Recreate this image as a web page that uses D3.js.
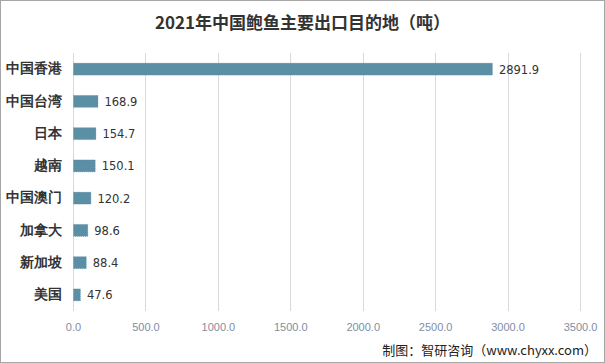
<!DOCTYPE html>
<html>
<head>
<meta charset="utf-8">
<script src="https://cdn.jsdelivr.net/npm/d3@7"></script>
<style>
  body { margin: 0; background: #fff; }
  svg { display: block; font-family: "Noto Sans CJK SC", "Noto Sans", sans-serif; }
</style>
</head>
<body>
<div id="chart"></div>
<script>
// data
var categories = ["中国香港", "中国台湾", "日本", "越南", "中国澳门", "加拿大", "新加坡", "美国"];
var values = [2891.9, 168.9, 154.7, 150.1, 120.2, 98.6, 88.4, 47.6];
var ticks = [0, 500, 1000, 1500, 2000, 2500, 3000, 3500];

var W = 605, H = 363;
var margin = {top: 53, right: 25, bottom: 52, left: 73},
    width = W - margin.left - margin.right,
    height = H - margin.top - margin.bottom;

var svg = d3.select("#chart").append("svg")
    .attr("width", W)
    .attr("height", H);

// outer frame
svg.append("rect")
    .attr("x", 0.5).attr("y", 0.5)
    .attr("width", W - 1).attr("height", H - 1)
    .attr("fill", "#fff").attr("stroke", "#a6a6a6");

svg.append("text")
    .attr("x", W / 2).attr("y", 29)
    .attr("text-anchor", "middle")
    .style("font-size", "17px").style("font-weight", "bold")
    .attr("fill", "#333")
    .text("2021年中国鲍鱼主要出口目的地（吨）");

var g = svg.append("g")
    .attr("transform", "translate(" + margin.left + "," + margin.top + ")");

var x = d3.scaleLinear().domain([0, 3500]).range([0, width]);
var y = d3.scaleBand().domain(categories).range([0, height]).paddingInner(0.63).paddingOuter(0.315);

// gridlines
g.append("g").selectAll("line")
    .data(ticks)
    .enter().append("line")
    .attr("x1", function(d) { return Math.round(x(d)) + 0.5; })
    .attr("x2", function(d) { return Math.round(x(d)) + 0.5; })
    .attr("y1", 0).attr("y2", height)
    .attr("stroke", "#d9d9d9");

// x tick labels
var xAxis = g.append("g")
    .attr("transform", "translate(0," + height + ")")
    .call(d3.axisBottom(x).tickValues(ticks).tickFormat(d3.format(".1f")).tickSize(0).tickPadding(12));
xAxis.select(".domain").remove();
xAxis.selectAll("text")
    .style("font-family", "'Liberation Sans', Arial, sans-serif")
    .style("font-size", "11px").attr("fill", "#7f8ea3");

// category labels
var yAxis = g.append("g")
    .call(d3.axisLeft(y).tickSize(0).tickPadding(11));
yAxis.select(".domain").remove();
yAxis.selectAll("text")
    .style("font-size", "13.5px").style("font-weight", "bold")
    .attr("fill", "#333");

// bars
g.append("g").selectAll("rect")
    .data(values)
    .enter().append("rect")
    .attr("x", x(0) + 0.5)
    .attr("y", function(d, i) { return y(categories[i]); })
    .attr("width", function(d) { return x(d) - x(0); })
    .attr("height", y.bandwidth())
    .attr("fill", "#5b8fa6")
    .attr("stroke", "#52849b")
    .attr("stroke-width", 0.5)
    .attr("stroke-dasharray", "1,1");

// value labels
g.append("g").selectAll("text")
    .data(values)
    .enter().append("text")
    .attr("x", function(d) { return x(d) + 7; })
    .attr("y", function(d, i) { return y(categories[i]) + y.bandwidth() / 2 + 1; })
    .attr("dominant-baseline", "middle")
    .style("font-family", "'DejaVu Sans', sans-serif")
    .style("font-size", "11.5px")
    .attr("fill", "#333")
    .text(function(d) { return d3.format(".1f")(d); });

svg.append("text")
    .attr("x", W - 8).attr("y", 355)
    .attr("text-anchor", "end")
    .style("font-size", "13px")
    .attr("fill", "#222")
    .text("制图：智研咨询（www.chyxx.com）");
</script>
</body>
</html>
